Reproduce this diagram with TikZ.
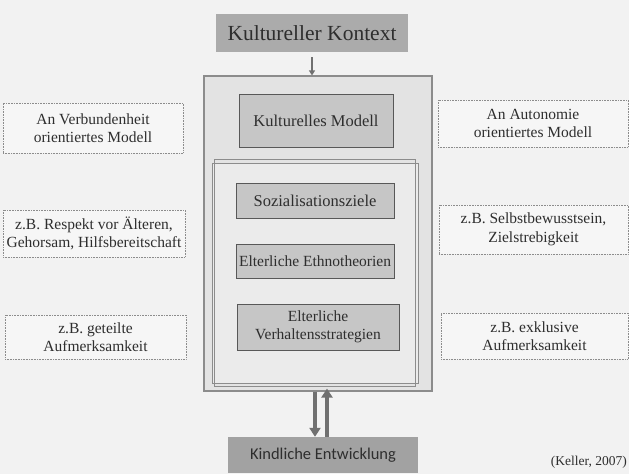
\documentclass[tikz,border=0pt]{standalone}
\usepackage{fontspec}
\setmainfont{Liberation Serif}
\newfontfamily\calib{Carlito}
\usetikzlibrary{arrows.meta}
\definecolor{paper}{HTML}{F2F2F2}
\definecolor{ink}{HTML}{2E2E2E}
\definecolor{headfill}{HTML}{ABABAB}
\definecolor{framefill}{HTML}{E3E3E3}
\definecolor{innerfill}{HTML}{EBEBEB}
\definecolor{boxfill}{HTML}{C6C6C6}
\definecolor{sidefill}{HTML}{F6F6F6}
\definecolor{arrowcol}{HTML}{707070}
\definecolor{framecol}{HTML}{8C8C8C}
\begin{document}
\begin{tikzpicture}[x=1pt,y=-1pt,
  txt/.style={text=ink,align=center,inner sep=0pt,font=\fontsize{15.5}{18.5}\selectfont},
  bigtxt/.style={font=\fontsize{16.5}{19}\selectfont},
  sidebox/.style={txt,draw=framecol,densely dotted,line width=0.6pt,fill=sidefill},
  midbox/.style={txt,draw=ink!80,line width=0.7pt,fill=boxfill},
  bigarrow/.style={draw=arrowcol,line width=3.8pt,-{Triangle[width=11pt,length=9pt]}},
  smallarrow/.style={draw=arrowcol,line width=1.4pt,-{Triangle[width=6pt,length=5pt]}}
]
\useasboundingbox (0,0) rectangle (629,474);
\fill[paper] (0,0) rectangle (629,474);

% header
\node[txt,fill=headfill,minimum width=192pt,minimum height=38pt,font=\fontsize{21.5}{24}\selectfont] (kontext) at (312,33) {Kultureller Kontext};

% outer frame
\node[draw=framecol,line width=1.2pt,fill=framefill,minimum width=228pt,minimum height=315pt,inner sep=0pt] (outer) at (318,233.5) {};
\node[midbox,bigtxt,minimum width=154pt,minimum height=53pt] (modell) at (316,120.5) {Kulturelles Modell};

% inner frame (double line)
\node[draw=framecol,line width=0.9pt,fill=innerfill,minimum width=206pt,minimum height=220pt,inner sep=0pt] (inner) at (315,273) {};
\draw[framecol,line width=0.7pt] ([shift={(3pt,3pt)}]inner.north west) rectangle ([shift={(-3pt,-3pt)}]inner.south east);
\node[midbox,bigtxt,minimum width=158pt,minimum height=35pt] (ziele) at (315,200.5) {Sozialisationsziele};
\node[midbox,minimum width=158pt,minimum height=34pt] (ethno) at (315,261) {Elterliche Ethnotheorien};
\node[midbox,minimum width=162pt,minimum height=46pt] (verhalten) at (318,327) {Elterliche\\Verhaltensstrategien};

% bottom
\node[txt,fill=headfill!95!black,minimum width=190pt,minimum height=36pt,font=\calib\fontsize{16.5}{19}\selectfont] (kind) at (323,455) {Kindliche Entwicklung};

% side boxes
\node[sidebox,minimum width=180pt,minimum height=50pt] (l1) at (93,128) {An Verbundenheit\\orientiertes Modell};
\node[sidebox,minimum width=182pt,minimum height=47pt] (l2) at (94,233.5) {z.B. Respekt vor Älteren,\\Gehorsam, Hilfsbereitschaft};
\node[sidebox,minimum width=181pt,minimum height=44pt] (l3) at (95.5,337) {z.B. geteilte\\Aufmerksamkeit};
\node[sidebox,minimum width=190pt,minimum height=47pt] (r1) at (533,123.5) {An Autonomie\\orientiertes Modell};
\node[sidebox,minimum width=189pt,minimum height=49pt] (r2) at (533.5,229.5) {z.B. Selbstbewusstsein,\\Zielstrebigkeit};
\node[sidebox,minimum width=187pt,minimum height=46pt] (r3) at (534.5,336) {z.B. exklusive\\Aufmerksamkeit};

% source
\node[txt,anchor=south east,font=\fontsize{13.5}{16}\selectfont] (src) at (627,469) {(Keller, 2007)};

% arrows
\draw[smallarrow,shorten <=5pt] (kontext.south) -- (kontext.south |- outer.north);
\draw[bigarrow] ([xshift=-3pt]outer.south) -- ([xshift=-8pt]kind.north);
\draw[bigarrow,shorten >=-3pt] ([xshift=4pt]kind.north) -- ([xshift=9pt]outer.south);
\end{tikzpicture}
\end{document}
